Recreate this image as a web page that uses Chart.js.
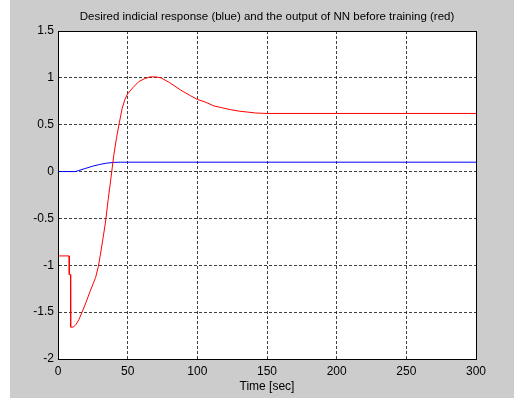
<!DOCTYPE html>
<html>
<head>
<meta charset="utf-8">
<script src="https://cdn.jsdelivr.net/npm/chart.js@4"></script>
<style>
  body { margin: 0; background: #ffffff; }
  #wrap { position: absolute; left: 10px; top: 0; width: 504px; height: 398px; background: #cccccc; }
</style>
</head>
<body>
<div id="wrap"><canvas id="nnChart" width="504" height="398"></canvas></div>
<script>
// 數據
const chartTitle = 'Desired indicial response (blue) and the output of NN before training (red)';
const xLabel = 'Time [sec]';

const desiredTime = [0, 12.5, 15, 20, 25, 30, 35, 40, 45, 300];
const desiredValue = [0, 0, 0.012, 0.035, 0.058, 0.076, 0.09, 0.098, 0.1, 0.1];

const nnTime = [0, 8, 8.1, 9, 9.1, 11, 13, 15, 17, 20, 23, 27, 29, 30.5, 32, 34, 36, 38, 40, 42, 44, 46, 48, 50,
    54, 58, 62, 66, 70, 74, 80, 88, 95, 100, 106, 112, 118, 124, 130, 136, 142, 150, 300];
const nnValue = [-0.9, -0.9, -1.1, -1.1, -1.66, -1.66, -1.63, -1.58, -1.51, -1.4, -1.28, -1.13, -1.01, -0.88, -0.74, -0.55, -0.3, -0.07, 0.17, 0.36, 0.52, 0.67, 0.77, 0.83,
    0.9, 0.96, 0.99, 1.01, 1.01, 1.0, 0.95, 0.87, 0.81, 0.77, 0.74, 0.7, 0.68, 0.66, 0.645, 0.635, 0.625, 0.62, 0.62];

const xTickLabels = ['0', '50', '100', '150', '200', '250', '300'];
const yTickLabels = ['-2', '-1.5', '-1', '-0.5', '0', '0.5', '1', '1.5'];

function toPoints(xs, ys) {
    return xs.map((x, i) => ({ x: x, y: ys[i] }));
}

const fontFamily = "'Liberation Sans', Arial, sans-serif";

// 白色繪圖區 + 黑框 + 標題 (置於繪圖區上方正中)
const axesBox = {
    id: 'axesBox',
    beforeDraw(chart) {
        const { ctx, chartArea: a } = chart;
        ctx.save();
        ctx.fillStyle = '#ffffff';
        ctx.fillRect(a.left, a.top, a.right - a.left, a.bottom - a.top);
        ctx.restore();
    },
    afterDraw(chart) {
        const { ctx, chartArea: a } = chart;
        ctx.save();
        ctx.strokeStyle = '#000000';
        ctx.lineWidth = 1;
        ctx.setLineDash([]);
        ctx.strokeRect(Math.round(a.left) + 0.5, Math.round(a.top) + 0.5,
            Math.round(a.right - a.left), Math.round(a.bottom - a.top));
        ctx.fillStyle = '#000000';
        ctx.font = '11.5px ' + fontFamily;
        ctx.textAlign = 'center';
        ctx.textBaseline = 'middle';
        ctx.fillText(chartTitle, (a.left + a.right) / 2, 17);
        ctx.restore();
    }
};

const tickFont = { family: fontFamily, size: 12 };
const gridColor = 'rgba(0,0,0,0.75)';

new Chart(document.getElementById('nnChart'), {
    type: 'scatter',
    data: {
        datasets: [
            {
                label: 'NN output',
                data: toPoints(nnTime, nnValue),
                showLine: true,
                borderColor: '#ff0000',
                borderWidth: 1,
                pointRadius: 0,
                tension: 0
            },
            {
                label: 'Desired',
                data: toPoints(desiredTime, desiredValue),
                showLine: true,
                borderColor: '#0000ff',
                borderWidth: 1,
                pointRadius: 0,
                tension: 0
            }
        ]
    },
    options: {
        responsive: false,
        animation: false,
        layout: { padding: { left: 0, right: 38, top: 31, bottom: 0 } },
        plugins: {
            legend: { display: false },
            tooltip: { enabled: false },
            title: { display: false }
        },
        scales: {
            x: {
                type: 'linear',
                min: 0,
                max: 300,
                afterFit(scale) { scale.height = 39; },
                ticks: {
                    stepSize: 50, color: '#000000', font: tickFont, padding: 5, maxRotation: 0,
                    callback: (v, i) => xTickLabels[i]
                },
                grid: { color: gridColor, lineWidth: 1, drawTicks: false, tickLength: 0 },
                border: { display: true, color: '#000000', dash: [3, 2] },
                title: {
                    display: true,
                    text: xLabel,
                    color: '#000000',
                    font: { family: fontFamily, size: 12, lineHeight: 1.2 },
                    padding: { top: 0, bottom: 4 }
                }
            },
            y: {
                type: 'linear',
                min: -2,
                max: 1.5,
                afterFit(scale) { scale.width = 48; },
                ticks: {
                    stepSize: 0.5, color: '#000000', font: tickFont, padding: 4,
                    callback: (v, i) => yTickLabels[i]
                },
                grid: { color: gridColor, lineWidth: 1, drawTicks: false, tickLength: 0 },
                border: { display: true, color: '#000000', dash: [3, 2] }
            }
        }
    },
    plugins: [axesBox]
});
</script>
</body>
</html>
